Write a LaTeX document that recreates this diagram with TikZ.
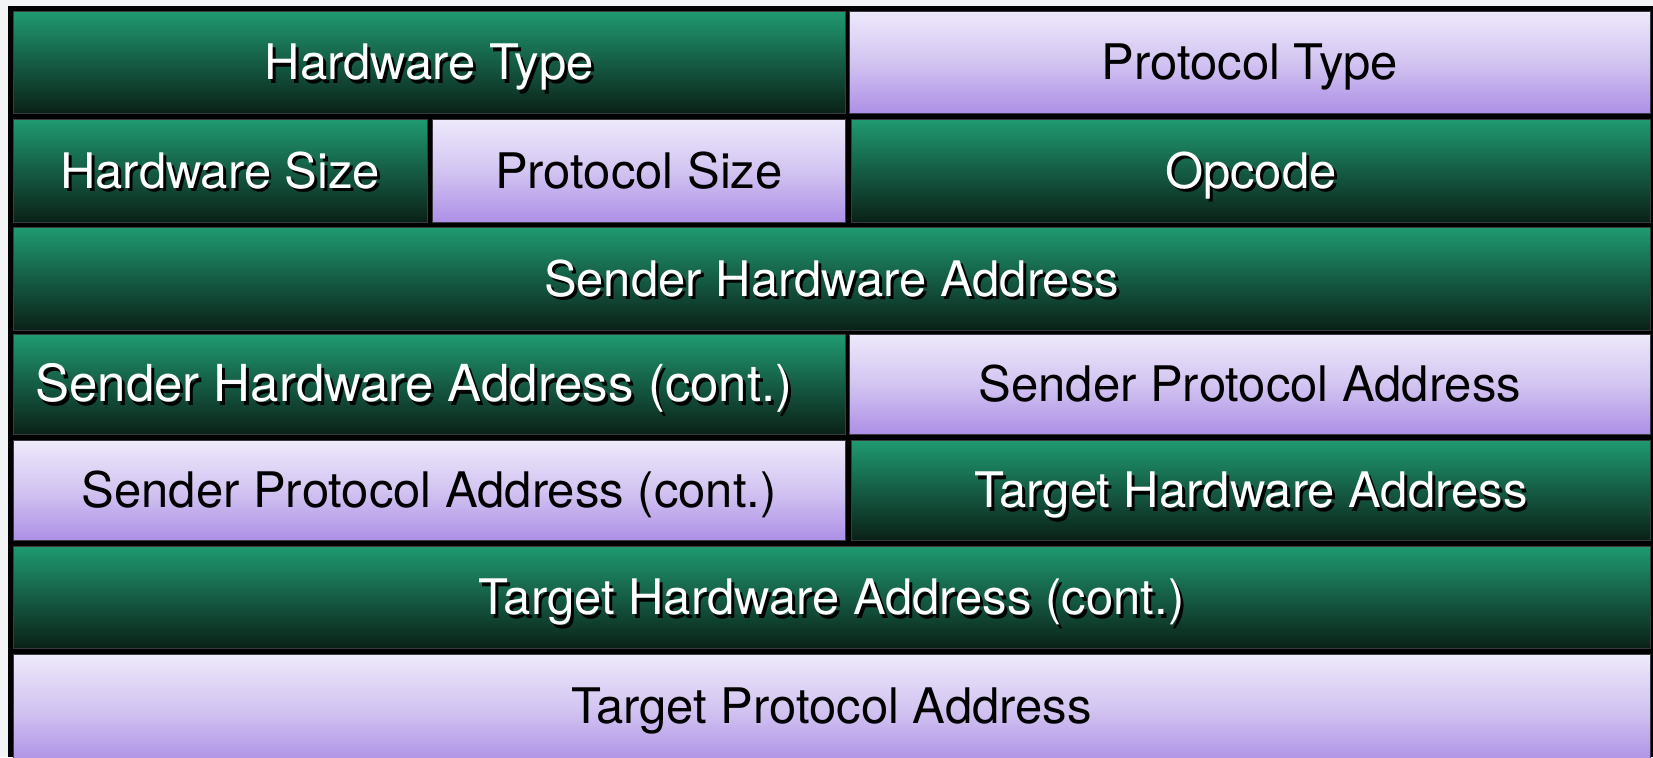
\documentclass[tikz,border=0pt]{standalone}
\usepackage{fontspec}
\setmainfont{TeX Gyre Heros}
\usetikzlibrary{positioning}

\definecolor{pagebg}{HTML}{F2F4F6}
\definecolor{greentop}{HTML}{1F9A70}
\definecolor{greenmid}{HTML}{155C44}
\definecolor{greenbot}{HTML}{0A2117}
\definecolor{purptop}{HTML}{EEE9FB}
\definecolor{purpmid}{HTML}{D2C4F1}
\definecolor{purpbot}{HTML}{AD8FE6}
\definecolor{cellline}{HTML}{3A3A40}

% white label with a hard black drop shadow
\newcommand\shadowlabel[1]{\rlap{\kern3pt\raisebox{-3.5pt}{\color{black}#1}}#1}

\tikzset{
  labelfont/.style={font=\fontsize{49}{59}\selectfont, text height=35pt, text depth=0pt},
  field/.style={anchor=north west, inner sep=0pt, draw=cellline, line width=0.8pt, labelfont},
  greenfield/.style={field, top color=greentop, bottom color=greenbot,
    middle color=greenmid, text=white},
  purplefield/.style={field, top color=purptop, bottom color=purpbot,
    middle color=purpmid, text=black},
}

\begin{document}
\begin{tikzpicture}[x=1pt,y=1pt]
  % page and outer frame
  \fill[pagebg] (0,0) rectangle (1653,-757);
  \fill[black] (8,-6) rectangle (1653,-757);
  \useasboundingbox (0,0) rectangle (1653,-757);

  % row 1
  \node[greenfield, minimum width=832pt, minimum height=102pt] (hwtype) at (12.7,-11) {\shadowlabel{Hardware Type}};
  \node[purplefield, minimum width=801pt, minimum height=102pt] (prtype) at (849,-11) {Protocol Type};
  % row 2
  \node[greenfield, minimum width=414pt, minimum height=103pt] (hwsize) at (12.7,-119) {\shadowlabel{Hardware Size}};
  \node[purplefield, minimum width=413pt, minimum height=103pt] (prsize) at (432,-119) {Protocol Size};
  \node[greenfield, minimum width=799pt, minimum height=103pt] (opcode) at (851,-119) {\shadowlabel{Opcode}};
  % row 3
  \node[greenfield, minimum width=1637pt, minimum height=103pt] (sha) at (12.7,-227) {\shadowlabel{Sender Hardware Address}};
  % row 4 (the long label sits a little left of centre)
  \node[greenfield, minimum width=832pt, minimum height=100pt] (shacont) at (12.7,-334) {};
  \node[labelfont, font=\fontsize{51}{61}\selectfont, inner sep=0pt, text=white] (shacontlabel) at (414,-384) {\shadowlabel{Sender Hardware Address (cont.)}};
  \node[purplefield, minimum width=801pt, minimum height=100pt] (spa) at (849,-334) {Sender Protocol Address};
  % row 5
  \node[purplefield, minimum width=832pt, minimum height=100pt] (spacont) at (12.7,-440) {Sender Protocol Address (cont.)};
  \node[greenfield, minimum width=799pt, minimum height=100pt] (tha) at (851,-440) {\shadowlabel{Target Hardware Address}};
  % row 6
  \node[greenfield, minimum width=1637pt, minimum height=102pt] (thacont) at (12.7,-546) {\shadowlabel{Target Hardware Address (cont.)}};
  % row 7 (runs past the lower edge)
  \node[purplefield, minimum width=1637pt, minimum height=110pt] (tpa) at (12.7,-654) {};
  \node[labelfont, inner sep=0pt] (tpalabel) at (831.3,-705.5) {Target Protocol Address};
\end{tikzpicture}
\end{document}
